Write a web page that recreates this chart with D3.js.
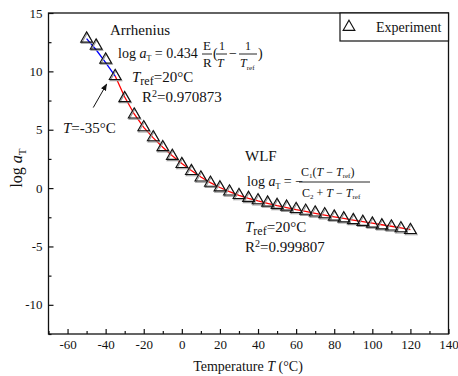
<!DOCTYPE html>
<html>
<head>
<meta charset="utf-8">
<script src="https://cdn.jsdelivr.net/npm/d3@7"></script>
<style>
  html, body { margin: 0; padding: 0; background: #fff; }
  svg { display: block; }
  text { font-family: "Liberation Serif", "Times New Roman", serif; fill: #111; }
</style>
</head>
<body>
<svg id="chart" width="458" height="376"></svg>
<script>
// Shift factor measurements: temperature (°C) vs log aT
const expTemps = [-50, -45, -40, -35, -30, -25, -20, -15, -10, -5, 0, 5, 10, 15, 20, 25, 30, 35,
                  40, 45, 50, 55, 60, 65, 70, 75, 80, 85, 90, 95, 100, 105, 110, 115, 120];
const expLogAT = [12.8, 12.2, 11.0, 9.6, 7.7, 6.3, 5.2, 4.35, 3.5, 2.75, 2.05, 1.45, 0.9, 0.45, 0.05,
                  -0.3, -0.6, -0.85, -1.05, -1.25, -1.45, -1.6, -1.8, -1.95, -2.1, -2.25, -2.45,
                  -2.6, -2.75, -2.9, -3.05, -3.2, -3.3, -3.45, -3.6];

// Arrhenius fit (below -35 °C)
const arrhTemps = [-50, -45, -40, -35];
const arrhFit   = [12.8, 11.85, 10.75, 9.6];

// WLF fit (-35 °C and above)
const wlfTemps = [-35, -30, -25, -20, -15, -10, -5, 0, 5, 10, 15, 20, 25, 30, 35, 40, 45, 50,
                  55, 60, 65, 70, 75, 80, 85, 90, 95, 100, 105, 110, 115, 120];
const wlfFit   = [9.6, 7.8, 6.35, 5.2, 4.3, 3.5, 2.78, 2.1, 1.5, 0.95, 0.47, 0.05, -0.3, -0.62,
                  -0.88, -1.1, -1.3, -1.5, -1.68, -1.85, -2.0, -2.16, -2.31, -2.46, -2.6, -2.74,
                  -2.88, -3.01, -3.14, -3.27, -3.4, -3.55];

// Axis ticks
const xMajor = [-60, -40, -20, 0, 20, 40, 60, 80, 100, 120, 140];
const xMinor = [-70, -50, -30, -10, 10, 30, 50, 70, 90, 110, 130];
const yMajor = [-10, -5, 0, 5, 10, 15];
const yMinor = [-12.5, -7.5, -2.5, 2.5, 7.5, 12.5];

const svg = d3.select("#chart");
const m = { left: 48.5, right: 448.5, top: 13, bottom: 334 };

const x = d3.scaleLinear().domain([-70, 140]).range([m.left, m.right]);
const y = d3.scaleLinear().domain([-12.5, 15]).range([m.bottom, m.top]);

const fmt = d => String(d);

// Axes with inward ticks
svg.append("g").attr("transform", `translate(0,${m.bottom})`)
  .call(d3.axisBottom(x).tickValues(xMajor).tickSize(-5).tickPadding(6).tickFormat(fmt));
svg.append("g").attr("transform", `translate(0,${m.bottom})`)
  .call(d3.axisBottom(x).tickValues(xMinor).tickSize(-3).tickFormat(""));
svg.append("g").attr("transform", `translate(${m.left},0)`)
  .call(d3.axisLeft(y).tickValues(yMajor).tickSize(-5).tickPadding(6).tickFormat(fmt));
svg.append("g").attr("transform", `translate(${m.left},0)`)
  .call(d3.axisLeft(y).tickValues(yMinor).tickSize(-3).tickFormat(""));

svg.selectAll(".domain").remove();
svg.selectAll(".tick line").attr("stroke", "#111").attr("stroke-width", 1.2);
svg.selectAll(".tick text").style("font-size", "13px").attr("fill", "#111");

// Frame
svg.append("rect")
  .attr("x", m.left).attr("y", m.top)
  .attr("width", m.right - m.left).attr("height", m.bottom - m.top)
  .attr("fill", "none").attr("stroke", "#111").attr("stroke-width", 1.3);

// Fit lines
const line = d3.line().x(d => x(d[0])).y(d => y(d[1]));
svg.append("path")
  .datum(wlfTemps.map((t, i) => [t, wlfFit[i]]))
  .attr("d", line).attr("fill", "none").attr("stroke", "#ff0000").attr("stroke-width", 1.3);
svg.append("path")
  .datum(arrhTemps.map((t, i) => [t, arrhFit[i]]))
  .attr("d", line).attr("fill", "none").attr("stroke", "#0000ff").attr("stroke-width", 1.3);

// Open triangle markers
const tri = d3.symbol().type(d3.symbolTriangle).size(60);
const pts = expTemps.map((t, i) => [t, expLogAT[i]]);
svg.append("g").selectAll("path.shadow").data(pts).join("path")
  .attr("class", "shadow")
  .attr("d", tri)
  .attr("transform", d => `translate(${x(d[0]) + 0.8},${y(d[1]) + 1.2})`)
  .attr("fill", "none").attr("stroke", "#9a9a9a").attr("stroke-width", 1.1);
svg.append("g").selectAll("path.mark").data(pts).join("path")
  .attr("class", "mark")
  .attr("d", tri)
  .attr("transform", d => `translate(${x(d[0])},${y(d[1])})`)
  .attr("fill", "none").attr("stroke", "#111").attr("stroke-width", 1.1);

// Legend
const lg = svg.append("g");
lg.append("rect").attr("x", 340).attr("y", m.top).attr("width", m.right - 340).attr("height", 28)
  .attr("fill", "#fff").attr("stroke", "#111").attr("stroke-width", 1.2);
lg.append("path").attr("d", tri).attr("transform", "translate(349,27)")
  .attr("fill", "none").attr("stroke", "#111").attr("stroke-width", 1.1);
lg.append("text").attr("x", 376).attr("y", 32).style("font-size", "14px").text("Experiment");

// Axis titles
svg.append("text").attr("x", 248).attr("y", 371).attr("text-anchor", "middle")
  .style("font-size", "14px")
  .call(t => {
    t.append("tspan").text("Temperature ");
    t.append("tspan").attr("font-style", "italic").text("T");
    t.append("tspan").text(" (°C)");
  });
svg.append("text").attr("transform", "translate(22,168) rotate(-90)")
  .attr("text-anchor", "middle").style("font-size", "16px")
  .call(t => {
    t.append("tspan").text("log ");
    t.append("tspan").attr("font-style", "italic").text("a");
    t.append("tspan").attr("dy", 4).style("font-size", "11px").text("T");
  });

// Text built from styled pieces
function rich(xp, yp, size, parts) {
  const t = svg.append("text").attr("x", xp).attr("y", yp).style("font-size", size + "px");
  parts.forEach(p => {
    const s = t.append("tspan").text(p.t);
    if (p.i) s.attr("font-style", "italic");
    if (p.dy) s.attr("dy", p.dy);
    if (p.fs) s.style("font-size", p.fs + "px");
  });
  return t;
}
function hbar(x1, x2, yp) {
  svg.append("line").attr("x1", x1).attr("x2", x2).attr("y1", yp).attr("y2", yp)
    .attr("stroke", "#111").attr("stroke-width", 0.9);
}

// Arrhenius annotation
rich(110, 35, 15, [{ t: "Arrhenius" }]);
rich(118, 58, 14, [{ t: "log " }, { t: "a", i: 1 }, { t: "T", dy: 3, fs: 8 }, { t: " = 0.434", dy: -3 }]);
rich(203, 50, 13, [{ t: "E" }]);
rich(203, 67, 13, [{ t: "R" }]);
hbar(202, 212, 54);
rich(213, 58, 14, [{ t: "(" }]);
rich(219, 50, 12, [{ t: "1" }]);
rich(217, 67, 12, [{ t: "T", i: 1 }]);
hbar(216, 227, 54);
rich(229, 58, 14, [{ t: "−" }]);
rich(245, 50, 12, [{ t: "1" }]);
rich(240, 67, 12, [{ t: "T", i: 1 }, { t: "ref", dy: 3, fs: 7 }]);
hbar(239, 257, 54);
rich(258, 58, 14, [{ t: ")" }]);
rich(132, 82, 15, [{ t: "T", i: 1 }, { t: "ref", dy: 3, fs: 12 }, { t: "=20°C", dy: -3 }]);
rich(142, 102, 15, [{ t: "R" }, { t: "2", dy: -5, fs: 10 }, { t: "=0.970873", dy: 5 }]);

// Transition arrow
svg.append("defs").append("marker").attr("id", "ah")
  .attr("viewBox", "0 0 10 10").attr("refX", 9).attr("refY", 5)
  .attr("markerWidth", 7).attr("markerHeight", 7).attr("orient", "auto")
  .append("path").attr("d", "M0,1 L10,5 L0,9 Z").attr("fill", "#111");
svg.append("line")
  .attr("x1", x(-46.5)).attr("y1", y(6.9))
  .attr("x2", x(-39.5)).attr("y2", y(8.9))
  .attr("stroke", "#111").attr("stroke-width", 1).attr("marker-end", "url(#ah)");
rich(63, 133, 15, [{ t: "T", i: 1 }, { t: "=-35°C" }]);

// WLF annotation
rich(245, 161, 15, [{ t: "WLF" }]);
rich(247, 186, 14, [{ t: "log " }, { t: "a", i: 1 }, { t: "T", dy: 3, fs: 8 }, { t: " = −", dy: -3 }]);
rich(301, 176, 12, [{ t: "C" }, { t: "1", dy: 2, fs: 7 }, { t: "(", dy: -2 }, { t: "T", i: 1 }, { t: " − " }, { t: "T", i: 1 }, { t: "ref", dy: 2, fs: 7 }, { t: ")", dy: -2 }]);
hbar(299, 370, 182);
rich(302, 197, 12, [{ t: "C" }, { t: "2", dy: 2, fs: 7 }, { t: " + ", dy: -2 }, { t: "T", i: 1 }, { t: " − " }, { t: "T", i: 1 }, { t: "ref", dy: 2, fs: 7 }]);
rich(245, 232, 15, [{ t: "T", i: 1 }, { t: "ref", dy: 3, fs: 12 }, { t: "=20°C", dy: -3 }]);
rich(245, 252, 15, [{ t: "R" }, { t: "2", dy: -5, fs: 10 }, { t: "=0.999807", dy: 5 }]);
</script>
</body>
</html>
